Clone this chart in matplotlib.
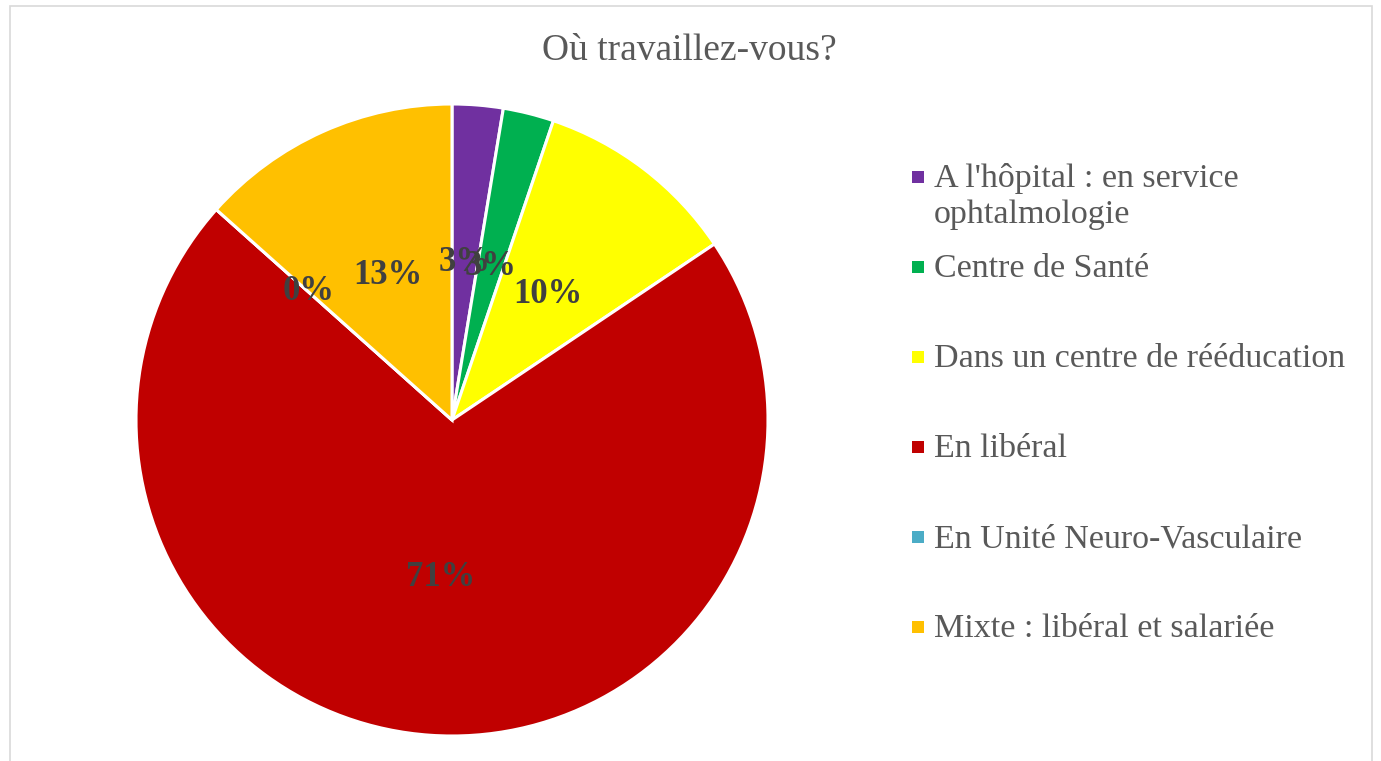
import numpy as np
import matplotlib.pyplot as plt
from matplotlib.patches import Rectangle

# values (percent)
categories = ["A l'hôpital : en service\nophtalmologie", "Centre de Santé",
              "Dans un centre de rééducation", "En libéral",
              "En Unité Neuro-Vasculaire", "Mixte : libéral et salariée"]
shares = [2.6, 2.6, 10.4, 71.0, 0.0, 13.4]
colors = ["#7030A0", "#00B050", "#FFFF00", "#C00000", "#4BACC6", "#FFC000"]
label_radius = [0.5, 0.5, 0.5, 0.5, 0.61, 0.5]

W, H = 1381, 761
fig = plt.figure(figsize=(W / 100, H / 100), dpi=100)
fig.patch.set_facecolor("white")

# chart frame
fig.patches.append(Rectangle((10 / W, -0.01), 1362 / W, 1 - 6 / H + 0.01,
                             transform=fig.transFigure, fill=False,
                             edgecolor="#D9D9D9", linewidth=1.2))

cx, cy, r = 452, 761 - 420, 316
ax = fig.add_axes([(cx - r) / W, (cy - r) / H, 2 * r / W, 2 * r / H])
wedges, texts, autotexts = ax.pie(
    shares, colors=colors, startangle=90, counterclock=False, radius=1,
    autopct="%.0f%%", pctdistance=0.5,
    wedgeprops=dict(edgecolor="white", linewidth=2.2),
    textprops=dict(fontfamily="Liberation Serif", fontsize=25,
                   fontweight="bold", color="#404040"))
for w, t, rr in zip(wedges, autotexts, label_radius):
    ang = np.deg2rad((w.theta1 + w.theta2) / 2)
    t.set_position((rr * np.cos(ang), rr * np.sin(ang)))
ax.set_xlim(-1, 1)
ax.set_ylim(-1, 1)
ax.set_aspect("equal")
ax.axis("off")

fig.text(689 / W, 1 - 51 / H, "Où travaillez-vous?", ha="center", va="center",
         fontfamily="Liberation Serif", fontsize=27, color="#595959")

# legend
y0, step, line_h = 179, 90, 36
for i, (lab, col) in enumerate(zip(categories, colors)):
    y = y0 + i * step
    fig.patches.append(Rectangle((912 / W, 1 - (y + 4) / H), 12 / W, 12 / H,
                                 transform=fig.transFigure, facecolor=col,
                                 edgecolor="none"))
    for j, line in enumerate(lab.split("\n")):
        fig.text(934 / W, 1 - (y + j * line_h) / H, line, ha="left", va="center",
                 fontfamily="Liberation Serif", fontsize=24.5, color="#595959")

fig.savefig("out.png", dpi=100)
